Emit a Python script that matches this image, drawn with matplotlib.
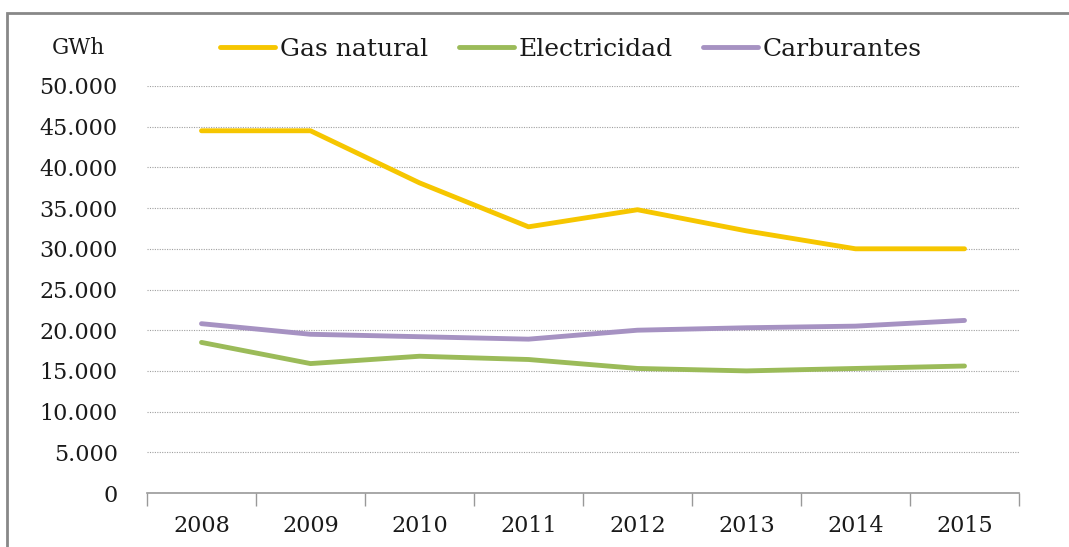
import matplotlib
matplotlib.use("Agg")
import matplotlib.pyplot as plt
from matplotlib.patches import Rectangle
from matplotlib.ticker import FuncFormatter, FixedLocator, NullFormatter

years = ["2008", "2009", "2010", "2011", "2012", "2013", "2014", "2015"]
gas_natural = [44500, 44500, 38100, 32700, 34800, 32200, 30000, 30000]
electricidad = [18500, 15900, 16800, 16400, 15300, 15000, 15300, 15600]
carburantes = [20800, 19500, 19200, 18900, 20000, 20300, 20500, 21200]

series_names = ["Gas natural", "Electricidad", "Carburantes"]
series_colors = ["#F6C600", "#9BBB59", "#A692C2"]

plt.rcParams["font.family"] = ["DejaVu Serif"]

fig = plt.figure(figsize=(10.69, 5.47), dpi=100)
ax = fig.add_axes([147 / 1069, 1 - 493 / 547, (1019 - 147) / 1069, 407 / 547])

x = list(range(len(years)))
for vals, name, col in zip([gas_natural, electricidad, carburantes], series_names, series_colors):
    ax.plot(x, vals, color=col, lw=3.5, solid_capstyle="round", solid_joinstyle="round", label=name)

ax.set_xlim(-0.5, len(years) - 0.5)
ax.set_ylim(0, 50000)
ax.set_yticks(range(0, 50001, 5000))
ax.yaxis.set_major_formatter(FuncFormatter(lambda v, p: f"{int(v):,}".replace(",", ".")))
ax.tick_params(axis="y", length=0, labelsize=16, pad=21, colors="#1a1a1a")
ax.yaxis.grid(True, linestyle=(0, (1, 1.2)), color="#a0a0a0", lw=0.8)
ax.set_axisbelow(True)

ax.xaxis.set_major_locator(FixedLocator([i - 0.5 for i in range(len(years) + 1)]))
ax.xaxis.set_major_formatter(NullFormatter())
ax.xaxis.set_minor_locator(FixedLocator(x))
ax.set_xticklabels(years, minor=True)
ax.tick_params(axis="x", which="major", length=9, width=1, color="#999999", direction="out")
ax.tick_params(axis="x", which="minor", length=0, labelsize=16, pad=16, labelcolor="#1a1a1a")

for s in ["top", "right", "left"]:
    ax.spines[s].set_visible(False)
ax.spines["bottom"].set_color("#999999")
ax.spines["bottom"].set_linewidth(1.2)

fig.text(78 / 1069, 1 - 48 / 547, "GWh", ha="center", va="center", fontsize=15.5, color="#1a1a1a")

leg = fig.legend(loc="center", bbox_to_anchor=(571 / 1069, 1 - 49 / 547), ncol=3, frameon=False,
                 fontsize=18, handlelength=2.2, handletextpad=0.2, columnspacing=1.2)
for t in leg.get_texts():
    t.set_color("#1a1a1a")

frame = Rectangle((7 / 1069, -0.2), 1.2, 1.2 - 13 / 547, transform=fig.transFigure,
                  fill=False, edgecolor="#888888", lw=2, clip_on=False)
fig.patches.append(frame)

fig.savefig("out.png", dpi=100, facecolor="white")
